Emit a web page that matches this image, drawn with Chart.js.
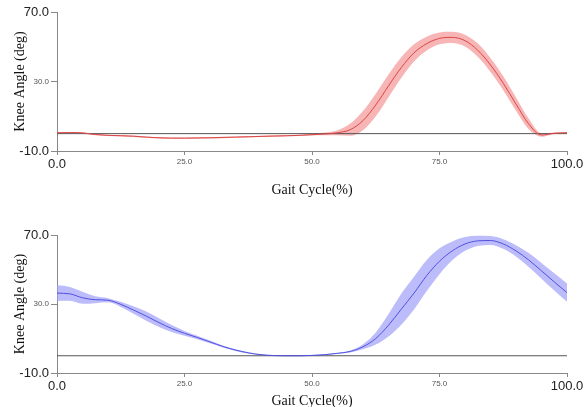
<!DOCTYPE html>
<html>
<head>
<meta charset="utf-8">
<script src="https://cdn.jsdelivr.net/npm/chart.js@4"></script>
<style>
  body { margin: 0; background: #fff; }
  #arriba { position: absolute; left: 0; top: 0; }
  #abajo { position: absolute; left: 0; top: 220px; }
</style>
</head>
<body>
<canvas id="arriba" width="585" height="210"></canvas>
<canvas id="abajo" width="585" height="187"></canvas>
<script>
// Porcentaje del ciclo de marcha
const ciclo = [
  0, 2.5, 5, 7.5, 10, 12.5, 15, 17.5, 20, 22.5, 25, 27.5, 30, 32.5, 35, 37.5, 40,
  42.5, 45, 47.5, 50, 52.5, 55, 57.5, 60, 62.5, 65, 67.5, 70, 72.5, 75, 77.5, 80,
  82.5, 85, 87.5, 90, 92.5, 95, 97.5, 100,
];

// Grafico de arriba (rojo)
const rojoMedia = [
  0.5, 0.6, 0.4, -0.5, -1.0, -1.2, -1.5, -2.0, -2.4, -2.6, -2.6, -2.5, -2.4, -2.2,
  -2.0, -1.8, -1.6, -1.4, -1.2, -1.0, -0.6, -0.2, 0.5, 2.3, 7.5, 16.5, 27.5, 38.0,
  46.5, 51.8, 54.8, 55.4, 53.5, 48.0, 39.5, 29.0, 17.0, 5.5, -0.8, 0.2, 0.5,
];
const rojoDesv = [
  0.4, 0.4, 0.4, 0.4, 0.4, 0.4, 0.4, 0.4, 0.4, 0.4, 0.4, 0.4, 0.4, 0.4, 0.4, 0.4,
  0.4, 0.4, 0.4, 0.4, 0.5, 0.8, 1.5, 3.5, 5.5, 6.5, 6.5, 6.0, 5.0, 4.0, 3.4, 3.2,
  3.4, 3.8, 4.0, 4.0, 3.8, 3.0, 1.0, 0.4, 0.4,
];

// Grafico de abajo (azul)
const azulMedia = [
  36.3, 35.9, 33.6, 32.5, 32.2, 29.8, 26.5, 23.0, 19.2, 15.8, 13.0, 10.6, 8.0, 5.4,
  3.3, 1.7, 0.6, 0.1, 0.0, 0.0, 0.2, 0.6, 1.4, 2.5, 5.2, 10.0, 17.7, 27.0, 36.3,
  46.5, 54.8, 60.8, 64.8, 66.6, 66.8, 64.8, 60.8, 55.5, 49.2, 42.8, 36.6,
];
const azulDesv = [
  4.5, 4.0, 3.5, 2.0, 1.2, 1.5, 2.2, 2.7, 2.5, 2.0, 1.4, 1.0, 0.8, 0.6, 0.5, 0.4,
  0.3, 0.3, 0.3, 0.3, 0.3, 0.3, 0.3, 0.6, 1.5, 3.5, 6.5, 9.0, 9.5, 9.0, 7.5, 5.5,
  4.0, 3.0, 2.6, 2.8, 3.3, 4.0, 4.6, 5.0, 5.3,
];

// Marcas de los ejes y linea de referencia
const marcasX = [0, 25, 50, 75, 100];
const marcasY = [-10, 30, 70];
const lineaCeroX = [0, 100];
const lineaCeroY = [0, 0];

function puntos(xs, ys) {
  return xs.map((x, i) => ({ x: x, y: ys[i] }));
}

function fuenteMarca(ctx, total) {
  const extremo = ctx.index === 0 || ctx.index === total - 1;
  return { family: "Liberation Sans", size: extremo ? 13 : 8 };
}

function colorMarca(ctx, total) {
  return ctx.index === 0 || ctx.index === total - 1 ? "#222" : "#555";
}

function crearGrafico(id, media, desv, colorLinea, colorBanda, margenArriba, altoX, padTitulo) {
  const arriba = media.map((v, i) => v + desv[i]);
  const abajo = media.map((v, i) => v - desv[i]);
  return new Chart(document.getElementById(id).getContext("2d"), {
    type: "line",
    data: {
      datasets: [
        {
          data: puntos(ciclo, media),
          borderColor: colorLinea,
          borderWidth: 1,
          pointRadius: 0,
          cubicInterpolationMode: "monotone",
          fill: false,
          order: 0,
        },
        {
          data: puntos(lineaCeroX, lineaCeroY),
          borderColor: "#555",
          borderWidth: 1,
          pointRadius: 0,
          fill: false,
          order: 1,
        },
        {
          data: puntos(ciclo, arriba),
          borderWidth: 0,
          pointRadius: 0,
          cubicInterpolationMode: "monotone",
          backgroundColor: colorBanda,
          fill: "+1",
          order: 2,
        },
        {
          data: puntos(ciclo, abajo),
          borderWidth: 0,
          pointRadius: 0,
          cubicInterpolationMode: "monotone",
          fill: false,
          order: 3,
        },
      ],
    },
    options: {
      responsive: false,
      animation: false,
      layout: { padding: { top: margenArriba, right: 18, left: 0, bottom: 0 } },
      plugins: { legend: { display: false }, tooltip: { enabled: false } },
      scales: {
        x: {
          type: "linear",
          min: 0,
          max: 100,
          afterBuildTicks: (s) => { s.ticks = marcasX.map((v) => ({ value: v })); },
          afterFit: (s) => { s.height = altoX; s.paddingLeft = 0; s.paddingRight = 0; },
          ticks: {
            autoSkip: false,
            maxRotation: 0,
            padding: 2,
            callback: (v) => v.toFixed(1),
            font: (ctx) => fuenteMarca(ctx, marcasX.length),
            color: (ctx) => colorMarca(ctx, marcasX.length),
          },
          grid: { drawOnChartArea: false, tickLength: 4, color: "#888" },
          border: { color: "#888" },
          title: {
            display: true,
            text: "Gait Cycle(%)",
            color: "#111",
            font: { family: "Liberation Serif", size: 14 },
            padding: { top: 0, bottom: padTitulo },
          },
        },
        y: {
          min: -10,
          max: 70,
          afterBuildTicks: (s) => { s.ticks = marcasY.map((v) => ({ value: v })); },
          afterFit: (s) => { s.width = 57; s.paddingTop = 0; s.paddingBottom = 0; },
          ticks: {
            padding: 2,
            callback: (v) => v.toFixed(1),
            font: (ctx) => fuenteMarca(ctx, marcasY.length),
            color: (ctx) => colorMarca(ctx, marcasY.length),
          },
          grid: { drawOnChartArea: false, tickLength: 6, color: "#888" },
          border: { color: "#888" },
          title: {
            display: true,
            text: "Knee Angle (deg)",
            color: "#111",
            font: { family: "Liberation Serif", size: 14 },
            padding: { top: 12, bottom: 0 },
          },
        },
      },
    },
  });
}

crearGrafico("arriba", rojoMedia, rojoDesv, "#d94545", "rgba(245,150,150,0.7)", 12, 59, 11.6);
crearGrafico("abajo", azulMedia, azulDesv, "#5050e0", "rgba(160,160,248,0.7)", 15, 34, -3);
</script>
</body>
</html>
